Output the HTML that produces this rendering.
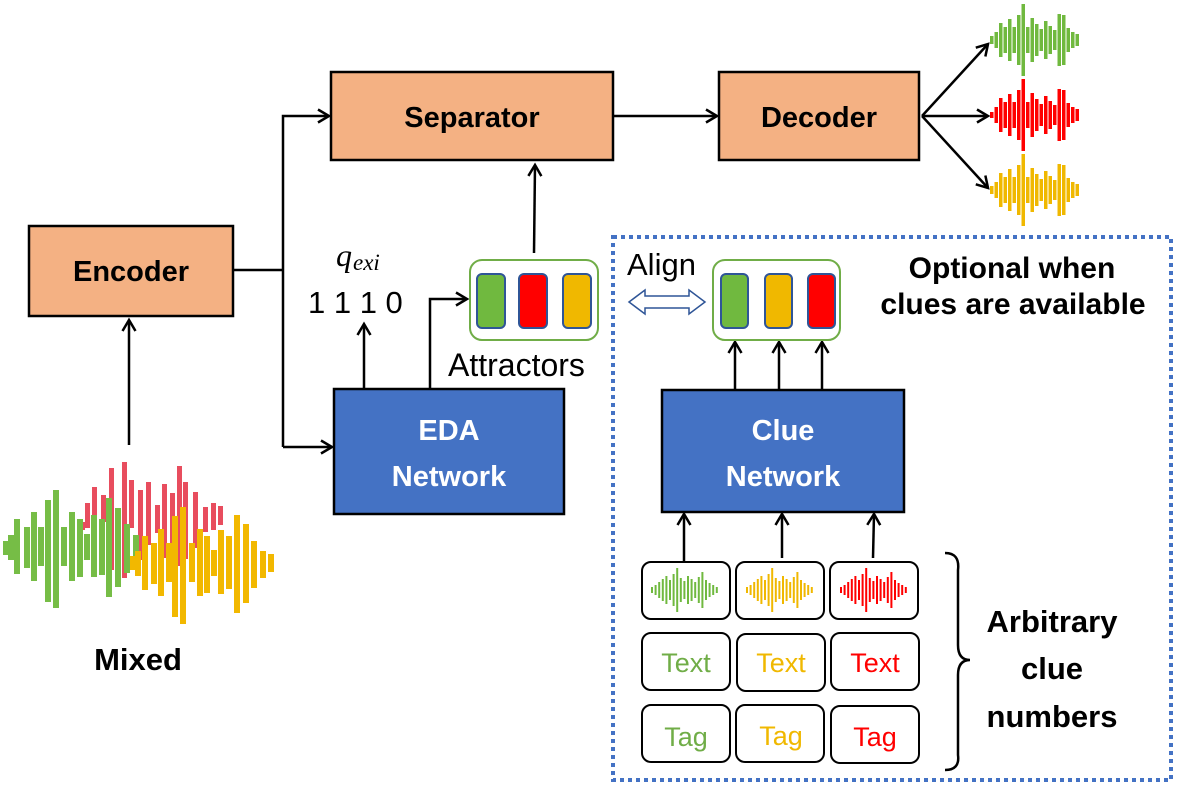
<!DOCTYPE html>
<html><head><meta charset="utf-8"><style>
body{margin:0;background:#fff;}
svg{display:block;font-family:"Liberation Sans","DejaVu Sans",sans-serif;}
.b{font-weight:bold;}
</style></head><body>
<svg id="s" width="1178" height="790" viewBox="0 0 1178 790" xmlns="http://www.w3.org/2000/svg">
<defs>
<marker id="a" markerWidth="16" markerHeight="16" refX="13" refY="8" orient="auto" markerUnits="userSpaceOnUse">
<path d="M2,1.5 L13,8 L2,14.5" fill="none" stroke="#000" stroke-width="2.5"/>
</marker>
</defs>
<g id="waves"></g>
<!-- boxes -->
<rect x="331" y="72" width="282" height="88" fill="#F4B183" stroke="#000" stroke-width="2.5"/>
<text x="472" y="127" font-size="29" class="b" text-anchor="middle">Separator</text>
<rect x="719" y="72" width="200" height="88" fill="#F4B183" stroke="#000" stroke-width="2.5"/>
<text x="819" y="127" font-size="29" class="b" text-anchor="middle">Decoder</text>
<rect x="29" y="226" width="204" height="90" fill="#F4B183" stroke="#000" stroke-width="2.5"/>
<text x="131" y="281" font-size="29" class="b" text-anchor="middle">Encoder</text>
<rect x="334" y="389" width="230" height="125" fill="#4472C4" stroke="#000" stroke-width="2.5"/>
<text x="449" y="440" font-size="29" class="b" fill="#fff" text-anchor="middle">EDA</text>
<text x="449" y="486" font-size="29" class="b" fill="#fff" text-anchor="middle">Network</text>
<rect x="662" y="390" width="242" height="122" fill="#4472C4" stroke="#000" stroke-width="2.5"/>
<text x="783" y="440" font-size="29" class="b" fill="#fff" text-anchor="middle">Clue</text>
<text x="783" y="486" font-size="29" class="b" fill="#fff" text-anchor="middle">Network</text>
<!-- connectors -->
<g stroke="#000" stroke-width="2.5" fill="none">
<path d="M233,270 H283"/>
<path d="M283,447 V116 H329" marker-end="url(#a)"/>
<path d="M283,447 H332" marker-end="url(#a)"/>
<path d="M129,445 V320" marker-end="url(#a)"/>
<path d="M613,116 H717" marker-end="url(#a)"/>
<path d="M922,116 L988,44" marker-end="url(#a)"/>
<path d="M922,116 L988,116" marker-end="url(#a)"/>
<path d="M922,116 L988,188" marker-end="url(#a)"/>
<path d="M534,253 L535,165" marker-end="url(#a)"/>
<path d="M364,389 V324" marker-end="url(#a)"/>
<path d="M430,389 V299 H467" marker-end="url(#a)"/>
<path d="M735,390 V342" marker-end="url(#a)"/>
<path d="M779,390 V342" marker-end="url(#a)"/>
<path d="M822,390 V342" marker-end="url(#a)"/>
<path d="M684,561 V514" marker-end="url(#a)"/>
<path d="M782,558 V514" marker-end="url(#a)"/>
<path d="M873,558 L874,514" marker-end="url(#a)"/>
<path d="M945,553 Q960,553 958,570 L958,645 Q958,660 970,660 Q958,660 958,675 L958,755 Q960,770 945,770" stroke-width="2.5"/>
</g>
<!-- attractors -->
<rect x="470" y="260" width="128" height="80" rx="12" fill="#fff" stroke="#70AD47" stroke-width="2"/>
<rect x="477" y="274" width="28" height="54" rx="5" fill="#70B93F" stroke="#2F5597" stroke-width="2"/>
<rect x="519" y="274" width="28" height="54" rx="5" fill="#FF0000" stroke="#2F5597" stroke-width="2"/>
<rect x="563" y="274" width="28" height="54" rx="5" fill="#F0B800" stroke="#2F5597" stroke-width="2"/>
<rect x="713" y="260" width="127" height="80" rx="12" fill="#fff" stroke="#70AD47" stroke-width="2"/>
<rect x="721" y="274" width="27" height="54" rx="5" fill="#70B93F" stroke="#2F5597" stroke-width="2"/>
<rect x="765" y="274" width="27" height="54" rx="5" fill="#F0B800" stroke="#2F5597" stroke-width="2"/>
<rect x="808" y="274" width="27" height="54" rx="5" fill="#FF0000" stroke="#2F5597" stroke-width="2"/>
<text x="448" y="376" font-size="32">Attractors</text>
<text x="336" y="266" font-size="32" font-style="italic" font-family="Liberation Serif,serif">q</text>
<text x="353" y="270" font-size="23" font-style="italic" font-family="Liberation Serif,serif">exi</text>
<text x="308" y="313" font-size="31">1 1 1 0</text>
<!-- dotted box -->
<rect x="613" y="237" width="558" height="543" fill="none" stroke="#4472C4" stroke-width="4" stroke-dasharray="4,4"/>
<text x="627" y="275" font-size="31">Align</text>
<path d="M629,302 L645,290 L645,296 L689,296 L689,290 L705,302 L689,314 L689,308 L645,308 L645,314 Z" fill="#fff" stroke="#2F5597" stroke-width="1.5"/>
<text x="1012" y="278" font-size="30" class="b" text-anchor="middle">Optional when</text>
<text x="1013" y="314" font-size="30" class="b" text-anchor="middle">clues are available</text>
<!-- cells -->
<g fill="#fff" stroke="#000" stroke-width="2">
<rect x="642" y="562" width="88" height="57" rx="9"/>
<rect x="736" y="562" width="88" height="57" rx="9"/>
<rect x="830" y="562" width="88" height="57" rx="9"/>
<rect x="642" y="633" width="88" height="57" rx="9"/>
<rect x="737" y="634" width="88" height="57" rx="9"/>
<rect x="831" y="633" width="88" height="57" rx="9"/>
<rect x="642" y="705" width="88" height="57" rx="9"/>
<rect x="736" y="705" width="88" height="57" rx="9"/>
<rect x="831" y="706" width="88" height="57" rx="9"/>
</g>
<g id="waves2"></g>
<g font-size="27" text-anchor="middle">
<text x="686" y="672" fill="#70AD47">Text</text>
<text x="781" y="672" fill="#F0B800">Text</text>
<text x="875" y="672" fill="#FF0000">Text</text>
<text x="686" y="746" fill="#70AD47">Tag</text>
<text x="781" y="745" fill="#F0B800">Tag</text>
<text x="875" y="746" fill="#FF0000">Tag</text>
</g>
<g font-size="31" class="b" text-anchor="middle">
<text x="1052" y="632">Arbitrary</text>
<text x="1052" y="679">clue</text>
<text x="1052" y="727">numbers</text>
</g>
<text x="138" y="670" font-size="31" class="b" text-anchor="middle">Mixed</text>
</svg>
<script>
var NS='http://www.w3.org/2000/svg',g=document.getElementById('waves');
function r(x,y1,y2,w,c){var e=document.createElementNS(NS,'rect');e.setAttribute('x',x);e.setAttribute('y',Math.min(y1,y2));e.setAttribute('width',w);e.setAttribute('height',Math.abs(y2-y1));e.setAttribute('fill',c);g.appendChild(e);}
var H=[4,8,17,13,21,13,25,36,13,22,16,11,19,14,10,26,25,12,8,6];
function wave(x0,cy,c,step,w,sc,arr){arr.forEach(function(h,i){r(x0+i*step,cy-h*sc,cy+h*sc,w,c);});}
wave(990,40,'#70B93F',4.5,3.5,1,H);
wave(990,115,'#FF0000',4.5,3.5,1,[3,8,17,13,21,13,25,36,13,22,16,11,19,14,10,26,25,12,8,6]);
wave(990,190,'#F0B800',4.5,3.5,1,H);
var red=[[80,522,530],[85,503,528],[92,487,537],[101,495,522],[109,468,570],[122,462,578],[129,480,528],[138,490,560],[146,482,545],[155,505,533],[162,484,558],[170,493,566],[177,466,566],[183,482,559],[193,492,548],[203,507,532],[211,503,530],[218,506,525]];
red.forEach(function(b){r(b[0],b[1],b[2],5,'#E84D5E');});
var grn=[[3,541,555],[8,535,560],[14,519,574],[24,527,568],[31,512,581],[38,527,566],[45,500,602],[53,490,608],[61,527,566],[69,512,581],[77,519,577],[84,534,560],[91,515,577],[99,519,575],[106,498,597],[115,508,587],[124,524,573],[133,535,565]];
grn.forEach(function(b){r(b[0],b[1],b[2],6,'#76BD46');});
var yel=[[130,556,570],[135,551,576],[142,536,590],[151,543,584],[158,529,596],[166,543,582],[172,516,617],[180,507,624],[189,543,582],[197,529,596],[204,536,593],[211,550,576],[218,530,594],[226,536,589],[234,515,613],[243,524,603],[251,541,588],[260,551,578],[268,554,572]];
yel.forEach(function(b){r(b[0],b[1],b[2],6,'#F2B800');});
g=document.getElementById('waves2');
var C=[3,5,8,11,14,10,16,22,12,9,14,11,8,13,18,10,7,5,3];
wave(651,590,'#70B93F',3.6,2,1,C);
wave(746,590,'#F0B800',3.6,2,1,C);
wave(840,590,'#FF0000',3.6,2,1,C);
</script>
</body></html>
